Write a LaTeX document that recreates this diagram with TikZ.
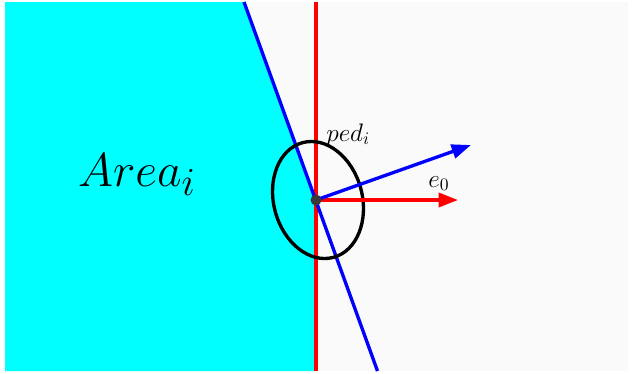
\documentclass[tikz,border=0pt]{standalone}
\usepackage{graphicx}
\usetikzlibrary{arrows.meta}
\definecolor{bgray}{HTML}{FAFAFA}
\definecolor{cyanfill}{HTML}{00FFFF}
\definecolor{dotgray}{HTML}{3A3A3A}
\begin{document}
\begin{tikzpicture}[x=0.02cm,y=-0.02cm,
  line/.style={line width=1.9pt},
  vec/.style={line width=1.9pt,-{Triangle[length=11pt,width=8pt]}}]
\useasboundingbox (0,0) rectangle (633,373);
\fill[white] (0,0) rectangle (633,373);
\fill[bgray] (5,2) rectangle (628,371);
\coordinate (c) at (316,200);
\coordinate (bt) at (244,2);
\coordinate (bb) at (377.5,371);
\coordinate (rt) at (316,2);
\coordinate (rb) at (316,371);
\fill[cyanfill] (5,2) -- (bt) -- (c) -- (rb) -- (5,371) -- cycle;
\draw[line,red] (rt) -- (rb);
\draw[line,blue] (bt) -- (bb);
\draw[line,black] (318,200) ellipse[x radius=44.3,y radius=59.4,rotate=15];
\coordinate (e0tip) at (458,200);
\coordinate (btip) at (471,145);
\draw[vec,red] (c) -- (e0tip);
\draw[vec,blue] (c) -- (btip);
\fill[dotgray] (c) circle[radius=5.5];
\node[anchor=base,font=\Huge,inner sep=0] (area) at (137,186) {\scalebox{1.09}{$Area_i$}};
\node[anchor=base west,font=\fontsize{14.4}{17}\selectfont,inner sep=0] (ped) at (326,141) {$ped_i$};
\node[anchor=base west,font=\fontsize{14.4}{17}\selectfont,inner sep=0] (e0) at (428,187) {$e_0$};
\end{tikzpicture}
\end{document}
